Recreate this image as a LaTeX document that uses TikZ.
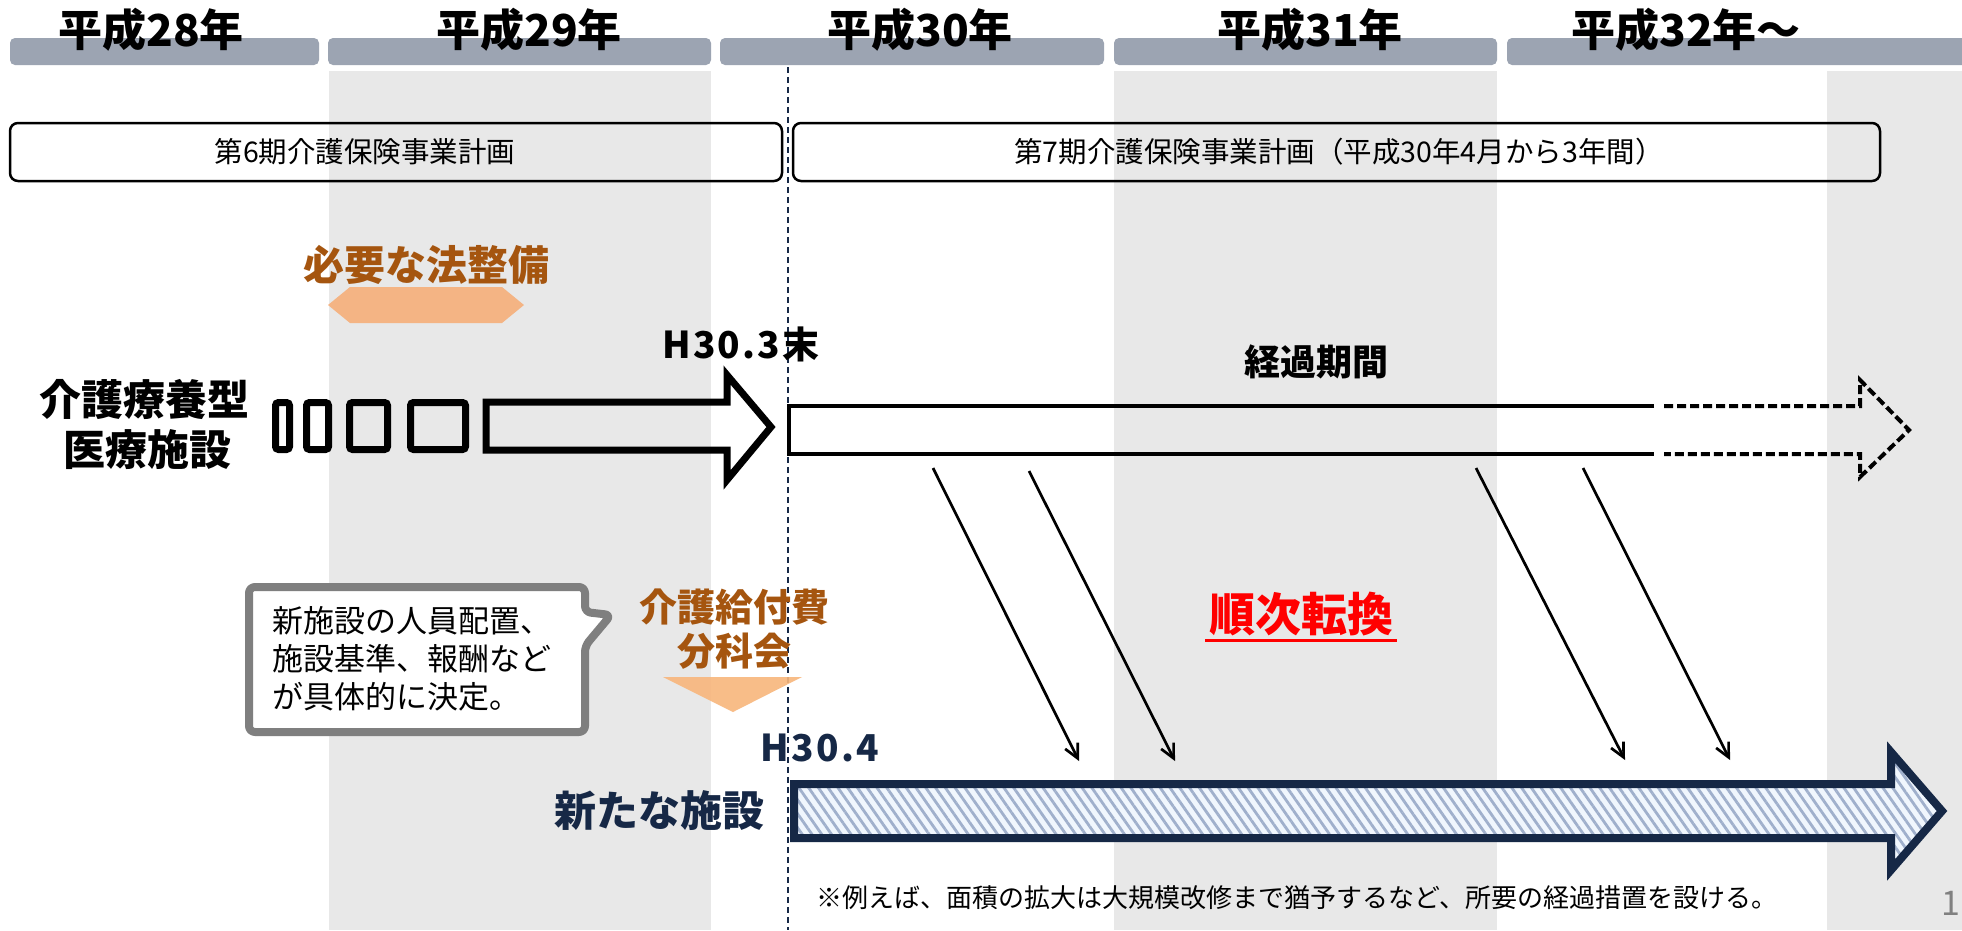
\documentclass[tikz,border=0pt]{standalone}
\usepackage{fontspec}
\setmainfont{Noto Sans CJK JP}
\usetikzlibrary{arrows.meta,patterns.meta}
\definecolor{colshade}{RGB}{232,232,232}
\definecolor{bargrey}{RGB}{156,164,178}
\definecolor{navy}{RGB}{22,40,70}
\definecolor{brownt}{RGB}{165,85,15}
\definecolor{hexorange}{RGB}{244,180,132}
\definecolor{triorange}{RGB}{248,182,124}
\definecolor{callgrey}{RGB}{127,127,127}
\definecolor{hatchblue}{RGB}{160,176,204}
\definecolor{hatchbg}{RGB}{240,246,253}
\begin{document}
\begin{tikzpicture}[x=1pt,y=-1pt,
  yearlbl/.style={font=\fontsize{44}{50}\selectfont\bfseries, text=black, inner sep=0},
  planbox/.style={draw=black, line width=2.5pt, rounded corners=8pt, inner sep=0},
  plantext/.style={font=\fontsize{28.5}{30}\selectfont, inner sep=0},
  bigbold/.style={font=\fontsize{42}{52}\selectfont\bfseries, inner sep=0},
  brownlbl/.style={font=\fontsize{38}{42}\selectfont\bfseries, text=brownt, inner sep=0},
  hlbl/.style={font=\fontsize{37}{40}\selectfont\bfseries\addfontfeature{LetterSpace=6}, inner sep=0},
  thinarrow/.style={line width=2.7pt, -{Straight Barb[length=14pt,width=14pt]}},
  outlinebox/.style={draw=black, line width=7pt, rounded corners=3pt}
]
\useasboundingbox (0,0) rectangle (1962,930);
\fill[white] (0,0) rectangle (1962,930);
% shaded year columns
\fill[colshade] (329,71) rectangle (711,930);
\fill[colshade] (1114,71) rectangle (1497,930);
\fill[colshade] (1827,71) rectangle (1962,930);
% header bars
\foreach \a/\b in {10/319, 328/711, 720/1104, 1114/1497, 1507/1975}
  \fill[bargrey, rounded corners=5pt] (\a,38) rectangle (\b,65);
\node[yearlbl] (y28) at (151,30) {平成28年};
\node[yearlbl] (y29) at (529,30) {平成29年};
\node[yearlbl] (y30) at (920,30) {平成30年};
\node[yearlbl] (y31) at (1310,30) {平成31年};
\node[yearlbl] (y32) at (1686,30) {平成32年～};
% H30.4 dashed boundary
\draw[navy, line width=1.5pt, dash pattern=on 6pt off 4pt] (788,67) -- (788,930);
% plan boxes
\node[planbox, minimum width=772pt, minimum height=58pt] (p6) at (396,152) {};
\node[plantext] (p6t) at (365,152) {第6期介護保険事業計画};
\node[planbox, minimum width=1087pt, minimum height=58pt] (p7) at (1336.5,152) {};
\node[plantext] (p7t) at (1339,152) {第7期介護保険事業計画（平成30年4月から3年間）};
% 必要な法整備
\node[brownlbl, font=\fontsize{41}{44}\selectfont\bfseries] (hou) at (426,265) {必要な法整備};
\fill[hexorange] (328,305) -- (350,287) -- (502,287) -- (524,305) -- (502,323) -- (350,323) -- cycle;
% left labels
\node[bigbold] (kaigo1) at (144,399) {介護療養型};
\node[bigbold] (kaigo2) at (147,450) {医療施設};
% small boxes
\draw[outlinebox] (275.5,402.5) rectangle (289.5,449.5);
\draw[outlinebox] (306.5,402.5) rectangle (328.5,449.5);
\draw[outlinebox] (349.5,402.5) rectangle (387.5,449.5);
\draw[outlinebox] (410.5,402.5) rectangle (465.5,449.5);
% first arrow
\draw[line width=7pt, line join=miter] (486,402) -- (727,402) -- (727,375) -- (771,427) -- (727,480) -- (727,450) -- (486,450) -- cycle;
\node[hlbl] (h303) at (741,344) {H30.3末};
% transition-period arrow
\draw[line width=4.5pt] (1654,406) -- (789,406) -- (789,454) -- (1654,454);
\draw[line width=4pt, dash pattern=on 9pt off 4pt] (1664,406) -- (1860,406) -- (1860,380) -- (1909,430) -- (1860,477) -- (1860,454) -- (1664,454);
\node[font=\fontsize{36}{40}\selectfont\bfseries, inner sep=0] (keika) at (1316,362) {経過期間};
% diagonal conversion arrows
\coordinate (s1) at (933,468); \coordinate (e1) at (1079,761);
\coordinate (s2) at (1029,471); \coordinate (e2) at (1175,761);
\coordinate (s3) at (1476,468); \coordinate (e3) at (1625,760);
\coordinate (s4) at (1583,468); \coordinate (e4) at (1730,760);
\foreach \i in {1,2,3,4} \draw[thinarrow] (s\i) -- (e\i);
% 順次転換
\node[font=\fontsize{46}{50}\selectfont\bfseries, text=red, inner sep=0] (junji) at (1301,614) {順次転換};
\draw[red, line width=3pt] (1205,640) -- (1397,640);
% callout
\draw[callgrey, line width=8pt, fill=white, rounded corners=6pt, line join=round]
  (585,612) -- (585,587) -- (249,587) -- (249,732) -- (585,732) -- (585,646) -- (611,615) -- cycle;
\node[font=\fontsize{31}{38}\selectfont, align=left, anchor=west, inner sep=0] (callt) at (272,659)
  {新施設の人員配置、\\施設基準、報酬など\\が具体的に決定。};
% 介護給付費分科会
\node[brownlbl] (kyufu1) at (734,607) {介護給付費};
\node[brownlbl] (kyufu2) at (734,651) {分科会};
\fill[triorange, opacity=0.9] (663,677) -- (802,677) -- (733,712) -- cycle;
% new facility
\node[hlbl, text=navy] (h304) at (820,748) {H30.4};
\node[font=\fontsize{42}{48}\selectfont\bfseries, text=navy, inner sep=0] (shin) at (659,811) {新たな施設};
\path[fill=hatchbg] (794,784) -- (1891,784) -- (1891,752) -- (1942,811) -- (1891,870) -- (1891,838) -- (794,838) -- cycle;
\path[pattern={Lines[angle=-55,distance=8pt,line width=2.8pt]}, pattern color=hatchblue]
  (794,784) -- (1891,784) -- (1891,752) -- (1942,811) -- (1891,870) -- (1891,838) -- (794,838) -- cycle;
\draw[navy, line width=8pt, line join=miter]
  (794,784) -- (1891,784) -- (1891,752) -- (1942,811) -- (1891,870) -- (1891,838) -- (794,838) -- cycle;
% footnote
\node[font=\fontsize{26}{30}\selectfont, inner sep=0] (note) at (1297,898)
  {※例えば、面積の拡大は大規模改修まで猶予するなど、所要の経過措置を設ける。};
\node[font=\fontsize{34}{38}\selectfont, text=gray, anchor=east, inner sep=0] (pg) at (1961,903) {1};
\end{tikzpicture}
\end{document}
